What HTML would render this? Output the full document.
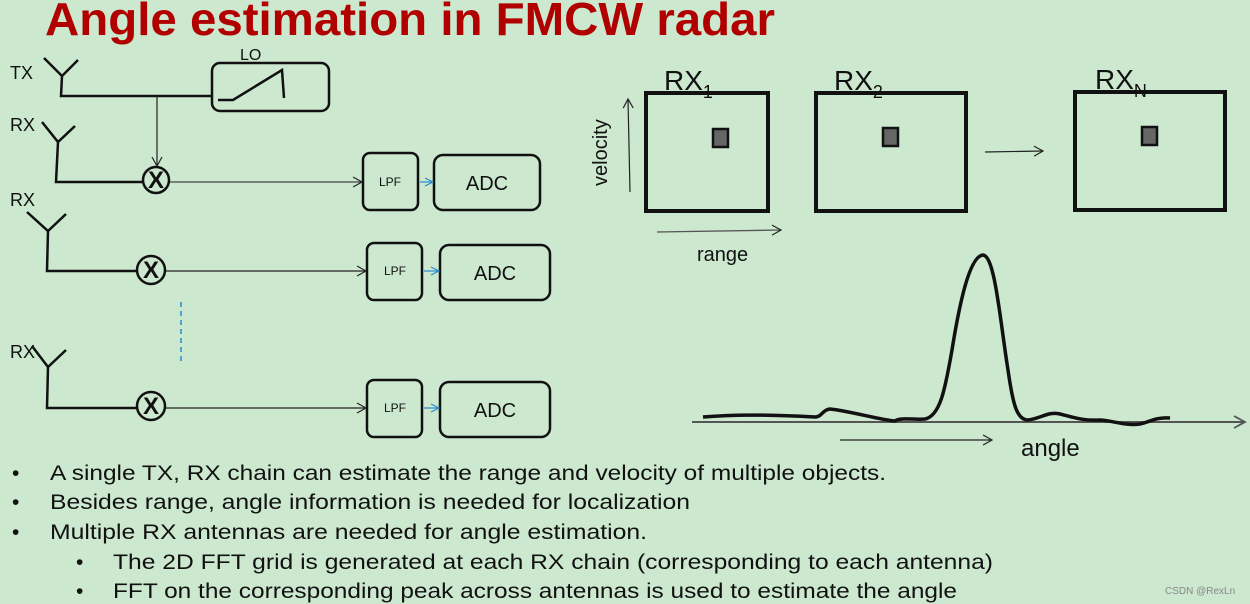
<!DOCTYPE html>
<html><head><meta charset="utf-8"><style>
html,body{margin:0;padding:0;}
body{width:1250px;height:604px;background:#cce8cf;overflow:hidden;position:relative;font-family:"Liberation Sans",sans-serif;}
svg{position:absolute;left:0;top:0;}
</style></head><body>
<svg width="1250" height="604" viewBox="0 0 1250 604" font-family="Liberation Sans, sans-serif">
<defs>
<marker id="oa" markerWidth="12" markerHeight="12" refX="10" refY="6" orient="auto" markerUnits="userSpaceOnUse"><path d="M1,1 L10,6 L1,11" fill="none" stroke="#222" stroke-width="1.2"/></marker>
<marker id="ga" markerWidth="14" markerHeight="14" refX="12" refY="7" orient="auto" markerUnits="userSpaceOnUse"><path d="M1,1 L12,7 L1,13" fill="none" stroke="#555" stroke-width="1.8"/></marker>
<marker id="ba" markerWidth="10" markerHeight="10" refX="9" refY="5" orient="auto" markerUnits="userSpaceOnUse"><path d="M1,1 L9,5 L1,9" fill="none" stroke="#2a8ad0" stroke-width="1.2"/></marker>
</defs>
<text x="45" y="35" font-size="46" font-weight="bold" fill="#b00000" textLength="730" lengthAdjust="spacingAndGlyphs">Angle estimation in FMCW radar</text>

<g font-size="18" fill="#111">
<text x="10" y="79">TX</text><text x="10" y="131">RX</text><text x="10" y="206">RX</text><text x="10" y="358">RX</text>
<text x="240" y="60" font-size="16">LO</text>
</g>
<g fill="none" stroke="#111" stroke-width="2.5">
<path d="M44,58 L62,76 L78,60 M62,76 L61,96 L212,96"/>
<rect x="212" y="63" width="117" height="48" rx="8"/>
<path d="M218,100 L233,100 L282,70 L284,98"/>
<path d="M42,122 L58,142 L75,126 M58,142 L56,182 L142,182"/>
<path d="M27,212 L48,231 L66,214 M48,231 L47,271 L137,271"/>
<path d="M32,346 L48,367 L66,350 M48,367 L47,408 L137,408"/>
<rect x="363" y="153" width="55" height="57" rx="7"/>
<rect x="434" y="155" width="106" height="55" rx="9"/>
<rect x="367" y="243" width="55" height="57" rx="7"/>
<rect x="440" y="245" width="110" height="55" rx="9"/>
<rect x="367" y="380" width="55" height="57" rx="7"/>
<rect x="440" y="382" width="110" height="55" rx="9"/>
</g>
<line x1="157" y1="96" x2="157" y2="166" stroke="#222" stroke-width="1.2" marker-end="url(#oa)"/>
<line x1="170" y1="182" x2="362" y2="182" stroke="#444" stroke-width="1.2" marker-end="url(#oa)"/>
<line x1="165" y1="271" x2="366" y2="271" stroke="#222" stroke-width="1.2" marker-end="url(#oa)"/>
<line x1="165" y1="408" x2="366" y2="408" stroke="#222" stroke-width="1.2" marker-end="url(#oa)"/>
<line x1="420" y1="182" x2="433" y2="182" stroke="#2a8ad0" stroke-width="1.2" marker-end="url(#ba)"/>
<line x1="424" y1="271" x2="439" y2="271" stroke="#2a8ad0" stroke-width="1.2" marker-end="url(#ba)"/>
<line x1="424" y1="408" x2="439" y2="408" stroke="#2a8ad0" stroke-width="1.2" marker-end="url(#ba)"/>
<line x1="181" y1="302" x2="181" y2="363" stroke="#2a8ad0" stroke-width="1.5" stroke-dasharray="5,4"/>
<g stroke="#111" stroke-width="2.5" fill="none">
<circle cx="156" cy="180" r="13"/><circle cx="151" cy="270" r="14"/><circle cx="151" cy="406" r="14"/>
</g>
<g font-size="24" font-weight="bold" fill="#111" text-anchor="middle">
<text x="156" y="188">X</text><text x="151" y="278">X</text><text x="151" y="414">X</text>
</g>
<g font-size="12" fill="#111" text-anchor="middle"><text x="390" y="186">LPF</text><text x="395" y="275">LPF</text><text x="395" y="412">LPF</text></g>
<g font-size="20" fill="#111" text-anchor="middle"><text x="487" y="190">ADC</text><text x="495" y="280">ADC</text><text x="495" y="417">ADC</text></g>

<g fill="none" stroke="#111" stroke-width="4">
<rect x="646" y="93" width="122" height="118"/>
<rect x="816" y="93" width="150" height="118"/>
<rect x="1075" y="92" width="150" height="118"/>
</g>
<g fill="#666" stroke="#111" stroke-width="2.5">
<rect x="713" y="129" width="15" height="18"/><rect x="883" y="128" width="15" height="18"/><rect x="1142" y="127" width="15" height="18"/>
</g>
<g font-size="28" fill="#111">
<text x="664" y="90">RX<tspan font-size="18" dy="8">1</tspan></text>
<text x="834" y="90">RX<tspan font-size="18" dy="8">2</tspan></text>
<text x="1095" y="89">RX<tspan font-size="18" dy="8">N</tspan></text>
</g>
<text x="0" y="0" font-size="20" fill="#111" transform="translate(607,186) rotate(-90)">velocity</text>
<line x1="630" y1="192" x2="628" y2="99" stroke="#222" stroke-width="1.2" marker-end="url(#oa)"/>
<line x1="657" y1="232" x2="781" y2="230" stroke="#555" stroke-width="1.3" marker-end="url(#oa)"/>
<text x="697" y="261" font-size="20" fill="#111">range</text>
<line x1="985" y1="152" x2="1043" y2="151" stroke="#222" stroke-width="1.2" marker-end="url(#oa)"/>
<line x1="692" y1="422" x2="1245" y2="422" stroke="#555" stroke-width="2" marker-end="url(#ga)"/>
<path d="M703,417 C730,415 760,414 815,417 C822,417 822,410 830,409 C850,411 880,420 895,421 C900,417 915,420 925,419 C940,416 945,390 952,350 C960,300 970,256 983,255 C995,256 1000,320 1008,370 C1013,405 1017,420 1028,420 C1040,419 1048,411 1060,414 C1075,418 1085,421 1100,420 C1115,421 1125,426 1140,424 C1150,422 1155,417 1170,418" fill="none" stroke="#111" stroke-width="3.5"/>
<line x1="840" y1="440" x2="992" y2="440" stroke="#222" stroke-width="1.2" marker-end="url(#oa)"/>
<text x="1021" y="456" font-size="24" fill="#111">angle</text>

<g font-size="21" fill="#111" lengthAdjust="spacingAndGlyphs">
<text x="12" y="480">•</text><text x="50" y="480" textLength="836" lengthAdjust="spacingAndGlyphs">A single TX, RX chain can estimate the range and velocity of multiple objects.</text>
<text x="12" y="509">•</text><text x="50" y="509" textLength="640" lengthAdjust="spacingAndGlyphs">Besides range,  angle information is needed for localization</text>
<text x="12" y="539">•</text><text x="50" y="539" textLength="597" lengthAdjust="spacingAndGlyphs">Multiple RX antennas  are needed for angle estimation.</text>
<text x="76" y="569">•</text><text x="113" y="569" textLength="880" lengthAdjust="spacingAndGlyphs">The 2D FFT grid is generated at each  RX chain (corresponding to each antenna)</text>
<text x="76" y="598">•</text><text x="113" y="598" textLength="844" lengthAdjust="spacingAndGlyphs">FFT on the corresponding peak across antennas is used to estimate the angle</text>
</g>
<text x="1165" y="594" font-size="10" fill="#888">CSDN @RexLn</text>
</svg>
</body></html>
